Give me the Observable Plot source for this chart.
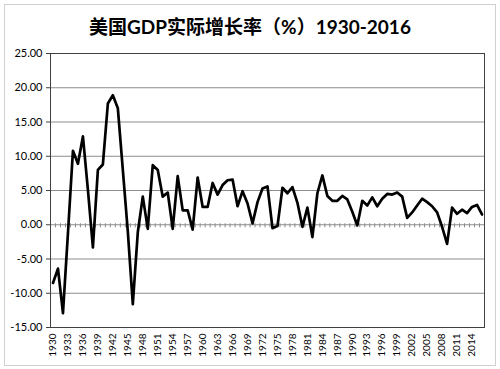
<!DOCTYPE html>
<html>
<head>
<meta charset="utf-8">
<script src="https://cdn.jsdelivr.net/npm/d3@7"></script>
<script src="https://cdn.jsdelivr.net/npm/@observablehq/plot@0.6"></script>
<style>
  html, body { margin: 0; padding: 0; background: #fff; }
  #wrap { position: relative; width: 500px; height: 369px; overflow: hidden; }
  #frame { position: absolute; left: 4px; top: 4px; width: 492px; height: 362px; border: 1px solid #d0d0d0; box-sizing: border-box; }
  #title { position: absolute; left: 0; top: 12px; width: 500px; text-align: center;
    font-family: Lato, "Noto Sans CJK SC", sans-serif; font-weight: bold; font-size: 19px; color: #000; line-height: 30px; }
  #chart { position: absolute; left: 0; top: 0; }
</style>
</head>
<body>
<div id="wrap">
  <div id="frame"></div>
  <div id="chart"></div>
  <div id="title">美国GDP实际增长率（%）1930-2016</div>
</div>
<script>
const years = d3.range(1930, 2017);
const growth = [
  -8.5, -6.4, -12.9, -1.2, 10.8, 8.9, 12.9, 5.1, -3.3, 8.0,
  8.8, 17.7, 18.9, 17.0, 8.0, -1.0, -11.6, -1.1, 4.1, -0.6,
  8.7, 8.0, 4.1, 4.7, -0.6, 7.1, 2.1, 2.1, -0.7, 6.9,
  2.6, 2.6, 6.1, 4.4, 5.8, 6.5, 6.6, 2.7, 4.9, 3.1,
  0.2, 3.3, 5.3, 5.6, -0.5, -0.2, 5.4, 4.6, 5.5, 3.2,
  -0.3, 2.5, -1.8, 4.6, 7.2, 4.2, 3.5, 3.5, 4.2, 3.7,
  1.9, -0.1, 3.5, 2.8, 4.0, 2.7, 3.8, 4.5, 4.4, 4.7,
  4.1, 1.0, 1.8, 2.8, 3.8, 3.3, 2.7, 1.8, -0.3, -2.8,
  2.5, 1.6, 2.2, 1.7, 2.6, 2.9, 1.5
];
const yTicks = [-15, -10, -5, 0, 5, 10, 15, 20, 25];
const xTickLabels = d3.range(1930, 2017, 3);

const data = years.map((y, i) => ({year: y, value: growth[i]}));
const boundaries = d3.range(years.length + 1).map(i => years[0] - 0.5 + i);

const chart = Plot.plot({
  width: 500,
  height: 369,
  marginLeft: 50,
  marginRight: 16,
  marginTop: 53,
  marginBottom: 42,
  style: {fontFamily: "Lato, 'Liberation Sans', sans-serif", background: "transparent", color: "#000"},
  x: {domain: [years[0] - 0.5, years[years.length - 1] + 0.5]},
  y: {domain: [-15, 25]},
  marks: [
    Plot.ruleY(yTicks, {stroke: "#8c8c8c", strokeWidth: 1}),
    Plot.ruleX(boundaries, {y1: -0.45, y2: 0.15, stroke: "#8c8c8c", strokeWidth: 1}),
    Plot.frame({stroke: "#404040", strokeWidth: 1}),
    Plot.axisY({ticks: yTicks, tickFormat: d => d.toFixed(2), tickSize: 4, tickPadding: 4,
      fontSize: 11, stroke: "#404040", label: null}),
    Plot.axisX({ticks: xTickLabels, tickFormat: d => String(d), tickRotate: -90, tickSize: 0,
      tickPadding: 6, fontSize: 10, label: null}),
    Plot.line(data, {x: "year", y: "value", stroke: "#000", strokeWidth: 2.7, strokeLinejoin: "round"})
  ]
});
document.getElementById("chart").appendChild(chart);
</script>
</body>
</html>
